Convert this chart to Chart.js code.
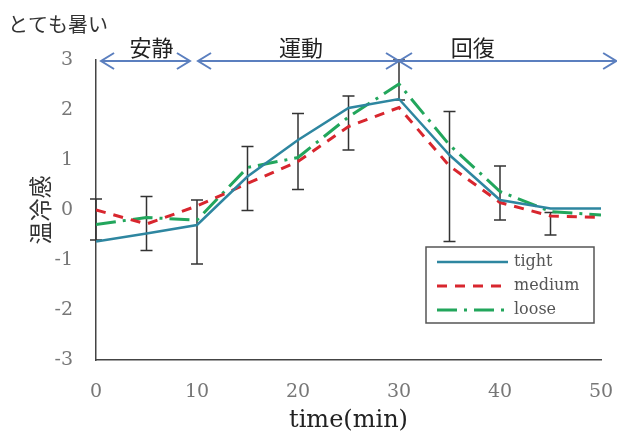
<!DOCTYPE html>
<html>
<head>
<meta charset="utf-8">
<script src="https://cdn.jsdelivr.net/npm/chart.js@4.4.1/dist/chart.umd.min.js"></script>
<style>
  body { margin: 0; background: #fff; }
  canvas { display: block; }
</style>
</head>
<body>
<canvas id="chartjs" width="617" height="432"></canvas>
<script>
// time axis (min)
var times = [0, 5, 10, 15, 20, 25, 30, 35, 40, 45, 50]

// mean thermal sensation per clothing fit
var tight  = [-0.63, -0.47, -0.30, 0.67, 1.40, 2.04, 2.22, 1.10, 0.20, 0.03, 0.03]
var medium = [0.00, -0.28, 0.08, 0.53, 0.97, 1.67, 2.05, 0.88, 0.15, -0.12, -0.15]
var loose  = [-0.29, -0.15, -0.20, 0.85, 1.05, 1.86, 2.52, 1.30, 0.37, -0.03, -0.10]

// error bars (only one set is drawn in the figure)
var errHigh = [0.22, 0.27, 0.20, 1.27, 1.93, 2.28, 3.00, 1.97, 0.88, -0.05, null]
var errLow  = [-0.60, -0.81, -1.08, -0.01, 0.41, 1.20, 2.20, -0.63, -0.20, -0.50, null]

// phases drawn as arrows along the top
var phaseLabels = ['安静', '運動', '回復']
var phaseFrom = [0.5, 10.1, 30]
var phaseTo = [9.3, 30, 51.5]
var phaseLabelAt = [5.5, 20.3, 37.3]

var xTicks = [0, 10, 20, 30, 40, 50]
var yTicks = [-3, -2, -1, 0, 1, 2, 3]

function toPoints(values) {
  return times.map((t, i) => ({ x: t, y: values[i] }))
}

var serif = "'DejaVu Serif', serif"
var jp = "'Noto Sans CJK JP', sans-serif"

var errorBars = {
  id: 'errorBars',
  beforeDatasetsDraw(chart) {
    const ctx = chart.ctx
    const x = chart.scales.x, y = chart.scales.y
    ctx.save()
    ctx.strokeStyle = '#333'
    ctx.lineWidth = 1.5
    times.forEach((t, i) => {
      if (errHigh[i] === null) return
      const px = x.getPixelForValue(t)
      const top = y.getPixelForValue(errHigh[i])
      const bot = y.getPixelForValue(errLow[i])
      ctx.beginPath()
      ctx.moveTo(px, top); ctx.lineTo(px, bot)
      ctx.moveTo(px - 6, top); ctx.lineTo(px + 6, top)
      ctx.moveTo(px - 6, bot); ctx.lineTo(px + 6, bot)
      ctx.stroke()
    })
    ctx.restore()
  }
}

var decorations = {
  id: 'decorations',
  afterDraw(chart) {
    const ctx = chart.ctx
    const x = chart.scales.x, y = chart.scales.y
    const area = chart.chartArea
    ctx.save()

    // label above the y axis
    ctx.fillStyle = '#333'
    ctx.font = '20px ' + jp
    ctx.textAlign = 'left'
    ctx.textBaseline = 'middle'
    ctx.fillText('とても暑い', 8, 24)

    // phase arrows
    const ay = y.getPixelForValue(3) + 1
    ctx.strokeStyle = '#5b7fbf'
    ctx.lineWidth = 2
    phaseLabels.forEach((label, i) => {
      const x1 = x.getPixelForValue(phaseFrom[i])
      const x2 = x.getPixelForValue(phaseTo[i])
      ctx.beginPath()
      ctx.moveTo(x1, ay); ctx.lineTo(x2, ay)
      ctx.moveTo(x1 + 13, ay - 8); ctx.lineTo(x1, ay); ctx.lineTo(x1 + 13, ay + 8)
      ctx.moveTo(x2 - 13, ay - 8); ctx.lineTo(x2, ay); ctx.lineTo(x2 - 13, ay + 8)
      ctx.stroke()
    })
    ctx.fillStyle = '#222'
    ctx.font = '22px ' + jp
    ctx.textAlign = 'center'
    phaseLabels.forEach((label, i) => {
      ctx.fillText(label, x.getPixelForValue(phaseLabelAt[i]), 48)
    })

    // legend box inside the plot
    const bx = area.right - 175, by = area.top + 187, bw = 168, bh = 76
    ctx.fillStyle = '#fff'
    ctx.fillRect(bx, by, bw, bh)
    ctx.strokeStyle = '#555'
    ctx.lineWidth = 1.5
    ctx.strokeRect(bx, by, bw, bh)
    ctx.font = '16px ' + serif
    ctx.textAlign = 'left'
    chart.data.datasets.forEach((ds, i) => {
      const ry = by + 15 + i * 24
      ctx.beginPath()
      ctx.strokeStyle = ds.borderColor
      ctx.lineWidth = ds.borderWidth
      ctx.setLineDash(ds.borderDash || [])
      ctx.moveTo(bx + 11, ry); ctx.lineTo(bx + 82, ry)
      ctx.stroke()
      ctx.setLineDash([])
      ctx.fillStyle = '#555'
      ctx.fillText(ds.label, bx + 88, ry)
    })
    ctx.restore()
  }
}

var tempData = {
  type: 'line',
  data: {
    datasets: [
      {
        label: 'tight',
        data: toPoints(tight),
        borderColor: '#2e86a0',
        borderWidth: 2.5,
        pointRadius: 0,
        tension: 0
      },
      {
        label: 'medium',
        data: toPoints(medium),
        borderColor: '#d8262e',
        borderWidth: 3,
        borderDash: [10, 8],
        pointRadius: 0,
        tension: 0
      },
      {
        label: 'loose',
        data: toPoints(loose),
        borderColor: '#22a65c',
        borderWidth: 3,
        borderDash: [20, 7, 3, 7],
        pointRadius: 0,
        tension: 0
      }
    ]
  },
  options: {
    responsive: false,
    animation: false,
    events: [],
    layout: {
      padding: { top: 60, right: 16, left: 0, bottom: 0 }
    },
    plugins: {
      legend: { display: false },
      tooltip: { enabled: false }
    },
    scales: {
      x: {
        type: 'linear',
        min: 0,
        max: 50,
        afterFit: scale => {
          scale.height = 72
          scale.paddingLeft = 0
          scale.paddingRight = 0
        },
        afterBuildTicks: scale => { scale.ticks = xTicks.map(v => ({ value: v })) },
        grid: { display: false, drawTicks: false },
        border: { display: true, color: '#444', width: 1.5 },
        ticks: { font: { family: serif, size: 19 }, color: '#777', padding: 21 },
        title: {
          display: true,
          text: 'time(min)',
          color: '#222',
          font: { family: serif, size: 24, lineHeight: 0.9 },
          padding: { top: 0, bottom: 0 }
        }
      },
      y: {
        min: -3,
        max: 3,
        afterFit: scale => {
          scale.width = 96
          scale.paddingTop = 0
          scale.paddingBottom = 0
        },
        afterBuildTicks: scale => { scale.ticks = yTicks.map(v => ({ value: v })) },
        grid: { display: false, drawTicks: false },
        border: { display: true, color: '#444', width: 1.5 },
        ticks: { font: { family: serif, size: 19 }, color: '#777', padding: 23 },
        title: {
          display: true,
          text: '温冷感',
          color: '#333',
          font: { family: jp, size: 23 },
          padding: { top: 26, bottom: 0 }
        }
      }
    }
  },
  plugins: [errorBars, decorations]
}

window.onload = function () {
  var ctx = document.getElementById('chartjs').getContext('2d')
  new Chart(ctx, tempData)
}
</script>
</body>
</html>
